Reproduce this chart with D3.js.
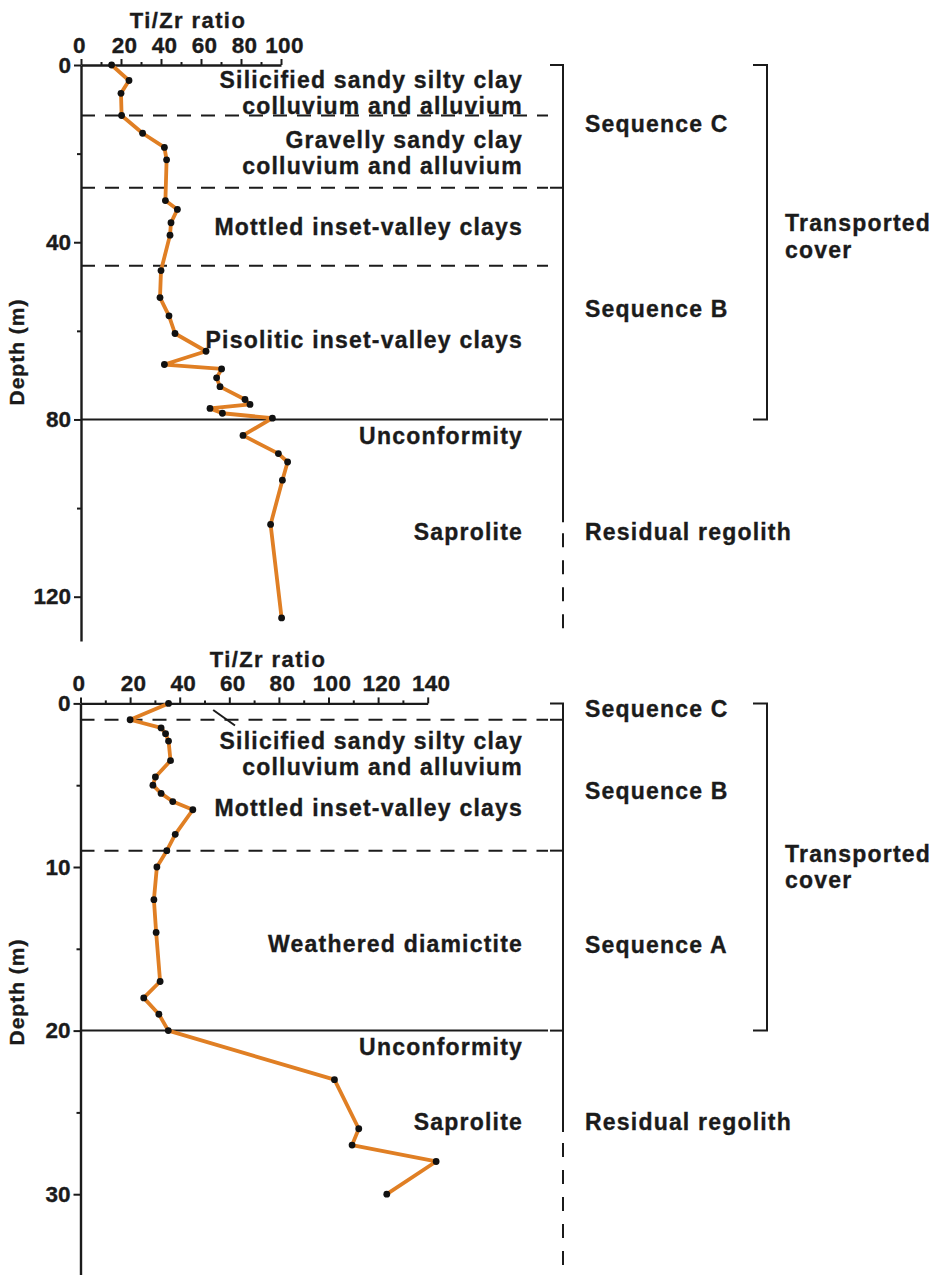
<!DOCTYPE html>
<html>
<head>
<meta charset="utf-8">
<script src="https://cdn.jsdelivr.net/npm/d3@7/dist/d3.min.js"></script>
<style>
  html, body { margin: 0; padding: 0; background: #ffffff; }
  svg text {
    font-family: "Liberation Sans", Arial, Helvetica, sans-serif;
    font-weight: bold;
    fill: #1b1b1b;
    stroke: #1b1b1b;
    stroke-width: 0.35px;
  }
</style>
</head>
<body>
<svg id="fig" width="936" height="1275"></svg>
<script>
// ---------- Upper profile ----------
const upperDepth = [0, 3.5, 6.4, 11.4, 15.4, 18.6, 21.4, 30.6, 32.6, 35.6, 38.4, 46.4,
  52.5, 56.6, 60.6, 64.6, 67.6, 68.6, 70.6, 72.6, 75.5, 76.6, 77.5, 78.6, 79.7,
  83.6, 87.7, 89.6, 93.7, 103.7, 124.8];
const upperRatio = [15.3, 24, 20, 20.3, 30.8, 41.7, 42.8, 42.2, 48.2, 45, 44.5, 40,
  39.5, 44, 47, 62.5, 41.7, 70.3, 67.8, 69.5, 82, 84.5, 64.5, 70.7, 95.7,
  81, 98.7, 103.3, 100.7, 94.8, 100.3];
const upperXTicks = [0, 20, 40, 60, 80, 100];
const upperXMinor = [10, 30, 50, 70, 90];
const upperYTicks = [0, 40, 80, 120];
const upperYMinor = [20, 60, 100];
const upperDashed = [11.4, 27.7, 45.3];
const upperUnconformity = 80;
const upperLayerLabels = [
  ["Silicified sandy silty clay", 3.4],
  ["colluvium and alluvium", 9.1],
  ["Gravelly sandy clay", 16.8],
  ["colluvium and alluvium", 22.8],
  ["Mottled inset-valley clays", 36.5],
  ["Pisolitic inset-valley clays", 62.1],
  ["Unconformity", 83.7],
  ["Saprolite", 105.4]
];
const upperSequenceBreaks = [0, 27.7, 80];
const upperSequenceLabels = [["Sequence C", 13.2], ["Sequence B", 54.9], ["Residual regolith", 105.3]];
const upperCoverLabels = [["Transported", 35.6], ["cover", 41.8]];
const upperRegolithSolidEnd = 103.2;
const upperRegolithEnd = 128;

// ---------- Lower profile ----------
const lowerDepth = [0, 1.0, 1.5, 1.85, 2.3, 3.5, 4.5, 5.0, 5.5, 6.0, 6.5, 8.0, 9.0,
  10.0, 12.0, 14.0, 17.0, 18.0, 19.0, 20.0, 23.0, 26.0, 27.0, 28.0, 30.0];
const lowerRatio = [35.5, 20, 32.5, 34.3, 35.5, 36.3, 30.2, 29.2, 32.5, 37.2, 45.3, 38.2, 34.8,
  30.8, 29.6, 30.5, 32.1, 25.5, 31.6, 35.4, 102.4, 112.2, 109.5, 143.4, 123.5];
const lowerXTicks = [0, 20, 40, 60, 80, 100, 120, 140];
const lowerXMinor = [10, 30, 50, 70, 90, 110, 130];
const lowerYTicks = [0, 10, 20, 30];
const lowerYMinor = [5, 15, 25];
const lowerDashed = [1.0, 9.0];
const lowerUnconformity = 20;
const lowerLayerLabels = [
  ["Silicified sandy silty clay", 2.28],
  ["colluvium and alluvium", 3.9],
  ["Mottled inset-valley clays", 6.4],
  ["Weathered diamictite", 14.66],
  ["Unconformity", 21.0],
  ["Saprolite", 25.6]
];
const lowerSequenceBreaks = [0, 1.0, 9.0, 20];
const lowerSequenceLabels = [["Sequence C", 0.3], ["Sequence B", 5.34], ["Sequence A", 14.77], ["Residual regolith", 25.6]];
const lowerCoverLabels = [["Transported", 9.16], ["cover", 10.8]];
const lowerRegolithSolidEnd = 26.2;
const lowerRegolithEnd = 35;
// short oblique mark across the upper dashed line
const lowerSlashRatio = [53.5, 62.3];
const lowerSlashDepth = [0.4, 1.35];

const svg = d3.select("#fig");
const ORANGE = "#E07F24";
const INK = "#1b1b1b";
const LABEL_SIZE = 23, LABEL_SPACING = 1.2;

function drawPanel(p) {
  const x = d3.scaleLinear().domain(p.xDomain).range(p.xRange);
  const y = d3.scaleLinear().domain(p.yDomain).range(p.yRange);
  const g = svg.append("g");
  const lineLeft = p.xRange[0], lineRight = 548;

  // layer boundaries
  p.dashed.forEach(d => {
    g.append("line")
      .attr("x1", lineLeft).attr("x2", lineRight)
      .attr("y1", y(d)).attr("y2", y(d))
      .attr("stroke", INK).attr("stroke-width", 2)
      .attr("stroke-dasharray", "14,10");
  });
  g.append("line")
    .attr("x1", lineLeft).attr("x2", lineRight)
    .attr("y1", y(p.unconformity)).attr("y2", y(p.unconformity))
    .attr("stroke", INK).attr("stroke-width", 2);

  if (p.slash) {
    g.append("line")
      .attr("x1", x(p.slash.r[0])).attr("y1", y(p.slash.d[0]))
      .attr("x2", x(p.slash.r[1])).attr("y2", y(p.slash.d[1]))
      .attr("stroke", INK).attr("stroke-width", 2);
  }

  // axes
  const styleAxis = sel => {
    sel.select(".domain").attr("stroke", INK).attr("stroke-width", 2.4);
    sel.selectAll(".tick line").attr("stroke", INK).attr("stroke-width", 2);
    sel.selectAll(".tick text")
      .attr("font-size", 22.5).attr("fill", INK)
      .style("font-family", "'Liberation Sans', Arial, sans-serif")
      .style("font-weight", "bold");
  };
  const xAxis = g.append("g").attr("transform", `translate(0,${p.yRange[0]})`)
    .call(d3.axisTop(x).tickValues(p.xTicks).tickSize(6).tickSizeOuter(0).tickPadding(6));
  styleAxis(xAxis);
  xAxis.selectAll(".tick text").attr("dx", d => d === 0 ? -2 : 3).attr("letter-spacing", 0.3);
  const xMinor = g.append("g").attr("transform", `translate(0,${p.yRange[0]})`)
    .call(d3.axisTop(x).tickValues(p.xMinor).tickSize(3).tickFormat(""));
  xMinor.select(".domain").remove();
  xMinor.selectAll(".tick line").attr("stroke", INK).attr("stroke-width", 2);

  const yAxis = g.append("g").attr("transform", `translate(${p.xRange[0]},0)`)
    .call(d3.axisLeft(y).tickValues(p.yTicks).tickSize(7).tickSizeOuter(0).tickPadding(3));
  styleAxis(yAxis);
  const yMinor = g.append("g").attr("transform", `translate(${p.xRange[0]},0)`)
    .call(d3.axisLeft(y).tickValues(p.yMinor).tickSize(4).tickFormat(""));
  yMinor.select(".domain").remove();
  yMinor.selectAll(".tick line").attr("stroke", INK).attr("stroke-width", 2);

  // titles
  g.append("text").attr("x", p.titleX).attr("y", p.titleY)
    .attr("text-anchor", "middle").attr("font-size", 22).attr("letter-spacing", 1.4)
    .text("Ti/Zr ratio");
  g.append("text")
    .attr("transform", `translate(${p.depthLabelX},${p.depthLabelY}) rotate(-90)`)
    .attr("text-anchor", "middle").attr("font-size", 21).attr("letter-spacing", 1)
    .text("Depth (m)");

  // Ti/Zr profile
  const pts = p.depth.map((d, i) => [p.ratio[i], d]);
  g.append("path")
    .datum(pts)
    .attr("fill", "none").attr("stroke", ORANGE).attr("stroke-width", 3.8)
    .attr("stroke-linejoin", "round").attr("stroke-linecap", "round")
    .attr("d", d3.line().x(d => x(d[0])).y(d => y(d[1])));
  g.selectAll("circle.pt").data(pts).enter().append("circle")
    .attr("class", "pt")
    .attr("cx", d => x(d[0])).attr("cy", d => y(d[1])).attr("r", 3.4)
    .attr("fill", "#111");

  // layer names
  p.layerLabels.forEach(([t, d]) => {
    g.append("text").attr("x", 523).attr("y", y(d)).attr("dy", "0.36em")
      .attr("text-anchor", "end").attr("font-size", LABEL_SIZE).attr("letter-spacing", LABEL_SPACING)
      .text(t);
  });

  // sequence bracket and regolith line
  const bx = 563, bl = 550;
  const top = y(p.seqBreaks[0]);
  g.append("path")
    .attr("d", `M${bl},${top}H${bx}V${y(p.regolithSolidEnd)}`)
    .attr("fill", "none").attr("stroke", INK).attr("stroke-width", 2);
  p.seqBreaks.slice(1).forEach(d => {
    g.append("line").attr("x1", bl).attr("x2", bx).attr("y1", y(d)).attr("y2", y(d))
      .attr("stroke", INK).attr("stroke-width", 2);
  });
  g.append("line")
    .attr("x1", bx).attr("x2", bx)
    .attr("y1", y(p.regolithSolidEnd) + 11).attr("y2", y(p.regolithEnd))
    .attr("stroke", INK).attr("stroke-width", 2).attr("stroke-dasharray", "14,13");
  p.seqLabels.forEach(([t, d]) => {
    g.append("text").attr("x", 585).attr("y", y(d)).attr("dy", "0.36em")
      .attr("font-size", LABEL_SIZE).attr("letter-spacing", LABEL_SPACING).text(t);
  });

  // transported cover bracket
  const ox = 767, ol = 753;
  g.append("path")
    .attr("d", `M${ol},${top}H${ox}V${y(p.seqBreaks[p.seqBreaks.length - 1])}H${ol}`)
    .attr("fill", "none").attr("stroke", INK).attr("stroke-width", 2);
  p.coverLabels.forEach(([t, d]) => {
    g.append("text").attr("x", 785).attr("y", y(d)).attr("dy", "0.36em")
      .attr("font-size", LABEL_SIZE).attr("letter-spacing", LABEL_SPACING).text(t);
  });
}

drawPanel({
  depth: upperDepth, ratio: upperRatio,
  xDomain: [0, 100], xRange: [81, 281],
  yDomain: [0, 130], yRange: [65, 641],
  xTicks: upperXTicks, xMinor: upperXMinor,
  yTicks: upperYTicks, yMinor: upperYMinor,
  dashed: upperDashed, unconformity: upperUnconformity,
  layerLabels: upperLayerLabels,
  seqBreaks: upperSequenceBreaks, seqLabels: upperSequenceLabels,
  coverLabels: upperCoverLabels,
  regolithSolidEnd: upperRegolithSolidEnd, regolithEnd: upperRegolithEnd,
  titleX: 188, titleY: 28, depthLabelX: 24, depthLabelY: 352
});

drawPanel({
  depth: lowerDepth, ratio: lowerRatio,
  xDomain: [0, 140], xRange: [80.5, 427.7],
  yDomain: [0, 35], yRange: [703.4, 1276],
  xTicks: lowerXTicks, xMinor: lowerXMinor,
  yTicks: lowerYTicks, yMinor: lowerYMinor,
  dashed: lowerDashed, unconformity: lowerUnconformity,
  layerLabels: lowerLayerLabels,
  seqBreaks: lowerSequenceBreaks, seqLabels: lowerSequenceLabels,
  coverLabels: lowerCoverLabels,
  regolithSolidEnd: lowerRegolithSolidEnd, regolithEnd: lowerRegolithEnd,
  slash: { r: lowerSlashRatio, d: lowerSlashDepth },
  titleX: 268, titleY: 667, depthLabelX: 24, depthLabelY: 992
});
</script>
</body>
</html>
